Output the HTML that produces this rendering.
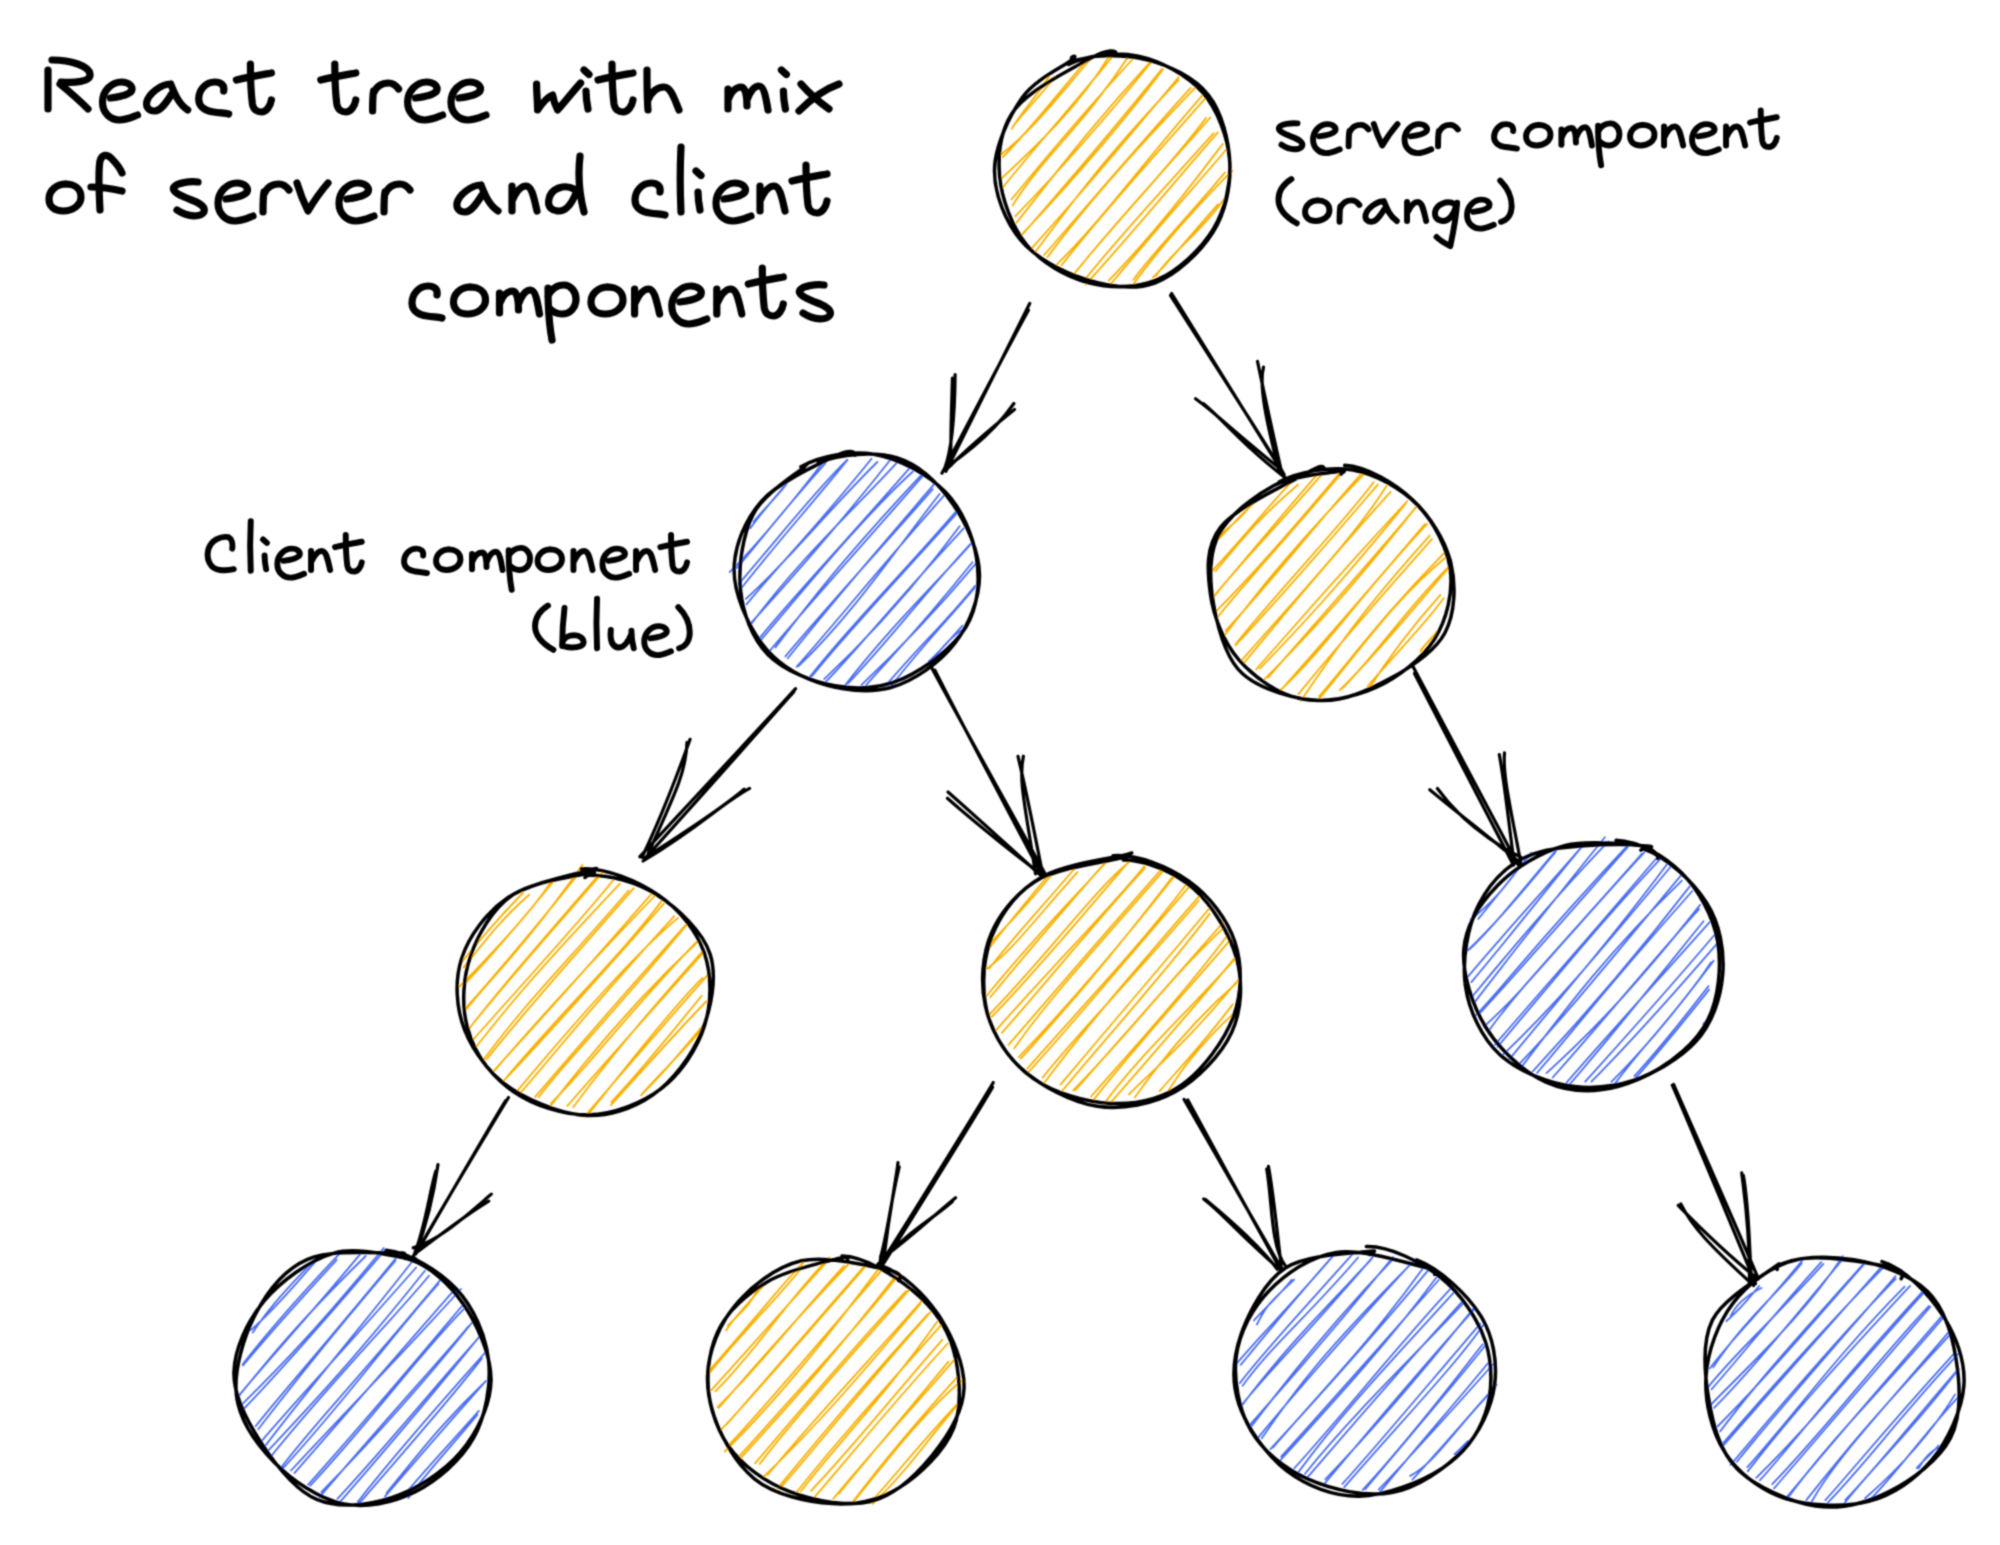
<!DOCTYPE html>
<html><head><meta charset="utf-8"><title>React tree</title>
<style>html,body{margin:0;padding:0;background:#fff;width:2000px;height:1545px;overflow:hidden}
svg{display:block}
.t{font-family:"Liberation Sans",sans-serif;fill:#000;stroke:#000;stroke-linejoin:round}
</style></head><body>
<svg width="2000" height="1545" viewBox="0 0 2000 1545">
<defs><filter id="bl" filterUnits="userSpaceOnUse" x="0" y="0" width="2000" height="1545"><feConvolveMatrix order="3" kernelMatrix="0.1299 0.3604 0.1299 0.3604 1.0000 0.3604 0.1299 0.3604 0.1299" divisor="2.9615" edgeMode="duplicate"/></filter></defs>
<rect width="2000" height="1545" fill="#fff"/><g filter="url(#bl)">
<path d="M1011.7 128.9C1021.8 111.6 1032.4 102.3 1049.1 76.6M1012.5 127.2C1026.6 108.4 1042.0 94.9 1054.5 76.8M998.7 156.2C1034.8 129.0 1063.8 89.3 1092.4 57.0M1002.8 157.1C1029.0 130.9 1056.7 95.2 1086.3 60.5M1000.3 179.7C1040.2 142.5 1080.6 103.8 1108.6 56.9M1003.6 186.5C1040.7 139.9 1080.6 96.6 1111.3 57.9M1012.6 205.5C1040.8 158.7 1083.4 126.3 1130.4 53.6M1011.6 199.3C1046.9 156.3 1082.7 113.4 1133.7 58.0M1016.4 222.8C1059.3 168.5 1092.6 124.5 1150.2 62.2M1015.2 216.4C1062.2 167.8 1104.2 119.9 1151.5 62.0M1023.2 233.6C1056.4 194.7 1098.6 148.3 1162.1 68.9M1020.1 236.3C1079.4 173.5 1133.3 109.5 1163.0 69.3M1035.4 251.8C1069.5 206.7 1096.4 166.5 1178.7 79.9M1031.2 248.8C1086.2 187.8 1136.7 127.6 1178.8 77.0M1047.4 257.1C1092.0 196.4 1150.6 133.7 1197.7 85.1M1044.0 255.2C1097.5 193.9 1146.8 135.7 1190.7 87.8M1055.2 266.1C1101.5 221.0 1135.8 171.7 1203.1 94.7M1061.4 265.4C1107.5 206.6 1163.3 146.6 1205.5 98.2M1071.4 277.1C1118.8 218.6 1172.3 163.9 1206.1 117.9M1075.8 271.9C1116.0 221.5 1160.9 174.3 1210.3 117.5M1084.0 280.6C1124.2 230.3 1167.3 185.2 1213.7 133.2M1085.7 284.5C1133.3 232.0 1180.4 174.9 1217.9 132.4M1108.7 280.7C1157.6 230.1 1193.4 182.4 1222.9 143.8M1110.6 284.2C1155.6 229.8 1198.6 182.1 1226.3 149.5M1132.9 284.9C1164.1 241.2 1211.8 190.8 1232.5 170.7M1133.4 279.7C1155.3 250.0 1180.4 225.6 1225.1 172.4M1156.0 275.9C1170.2 253.6 1198.6 234.5 1224.4 198.9M1152.9 277.4C1165.1 266.5 1180.2 247.1 1217.9 204.3" fill="none" stroke="#fab005" stroke-width="1.80" stroke-linecap="round"/>
<path d="M750.1 528.4C767.0 505.2 778.2 494.5 783.7 486.7M753.5 521.8C764.1 508.5 780.1 493.7 786.8 483.6M729.7 572.1C764.0 537.4 797.9 495.0 827.3 456.7M736.8 568.0C756.9 545.2 777.1 517.1 825.5 463.1M738.7 584.0C780.0 536.1 816.7 489.1 847.4 459.7M740.5 589.3C774.5 545.7 808.0 508.6 847.3 460.1M745.9 598.8C785.8 563.6 821.5 517.3 877.3 462.0M746.5 604.4C774.9 569.0 809.8 535.3 871.5 458.8M750.6 624.8C801.0 556.6 861.9 501.8 898.0 461.3M751.6 622.3C804.5 564.3 850.6 510.4 892.8 456.8M759.4 641.9C813.9 577.1 868.9 511.5 912.9 471.5M760.4 637.1C792.7 597.4 829.7 559.2 910.7 466.8M775.4 647.4C808.6 603.3 844.5 556.9 921.4 474.8M769.3 651.3C817.6 594.0 869.5 537.3 922.6 476.2M787.8 658.2C837.1 596.3 896.1 528.6 934.6 483.7M785.4 656.3C837.9 594.1 895.9 531.7 932.7 489.2M798.6 666.1C852.3 614.7 894.5 551.6 939.6 494.0M796.6 666.8C838.3 619.9 873.1 575.5 944.2 495.3M811.9 676.3C838.8 642.1 869.8 610.0 956.3 513.8M808.1 679.1C849.0 626.3 896.3 580.8 956.3 511.1M824.2 679.1C883.2 624.0 932.1 563.3 959.6 526.3M823.5 684.2C857.6 649.5 885.1 613.2 963.7 528.3M841.6 689.8C889.8 626.6 942.7 576.6 972.3 542.5M847.7 683.6C883.1 647.3 916.1 603.4 970.3 544.1M861.5 684.9C906.1 643.1 952.2 591.7 976.3 563.2M866.3 684.8C889.4 658.4 915.7 633.1 972.5 562.3M889.0 689.3C909.5 660.4 943.7 624.5 974.8 587.6M885.1 686.5C914.6 650.8 946.5 621.5 975.1 585.7M931.6 662.1C940.2 649.3 951.9 635.6 964.0 629.0M928.8 661.5C941.0 650.3 948.2 641.4 962.5 625.6" fill="none" stroke="#4c6ef5" stroke-width="1.80" stroke-linecap="round"/>
<path d="M1213.4 540.8C1233.9 522.3 1246.0 515.0 1255.9 497.2M1217.1 540.1C1224.8 533.6 1230.4 525.1 1254.8 501.9M1215.4 571.1C1238.1 544.4 1255.2 521.0 1298.0 484.7M1211.4 571.5C1240.6 541.7 1262.2 512.7 1296.0 476.8M1212.5 598.7C1234.6 569.1 1260.3 544.9 1322.8 473.4M1212.8 597.3C1250.9 552.7 1290.0 505.7 1317.5 474.1M1215.5 611.8C1249.9 578.1 1288.5 534.0 1343.9 468.0M1217.9 616.8C1255.1 570.9 1295.0 528.8 1343.2 471.2M1225.2 634.5C1262.3 585.7 1300.4 539.3 1366.0 472.1M1225.5 630.8C1268.2 585.4 1308.7 532.7 1360.6 474.7M1235.9 643.7C1283.9 584.2 1340.8 526.2 1373.6 482.3M1235.4 645.3C1287.4 590.1 1338.6 530.1 1377.8 484.6M1241.3 660.8C1297.8 596.0 1354.5 537.3 1386.6 485.8M1243.9 663.0C1282.9 615.9 1324.9 564.3 1390.6 491.8M1259.8 668.6C1299.4 628.0 1337.3 587.3 1405.6 503.6M1256.1 669.3C1290.3 631.2 1325.8 588.9 1407.3 501.0M1264.6 679.1C1317.4 626.1 1358.5 579.7 1417.3 505.4M1268.3 677.3C1313.5 624.6 1362.7 570.8 1418.1 504.9M1280.4 690.1C1325.6 647.9 1357.9 598.1 1427.1 523.9M1282.5 688.4C1333.9 630.2 1386.4 569.6 1424.9 524.2M1301.0 700.6C1331.0 657.4 1351.9 622.3 1429.7 535.6M1298.5 694.1C1330.8 654.3 1371.3 607.3 1432.1 538.9M1317.2 701.1C1360.7 649.7 1393.0 601.0 1445.1 558.0M1319.1 696.4C1354.7 654.8 1386.7 611.2 1444.3 553.0M1342.0 688.6C1374.7 656.2 1407.3 607.8 1449.5 565.8M1339.7 690.2C1366.2 664.0 1388.9 638.0 1448.2 568.3M1366.8 691.9C1388.3 657.9 1408.5 630.6 1440.4 594.9M1367.5 686.5C1393.6 656.1 1425.0 624.2 1443.7 598.3M1420.7 651.7C1423.7 644.7 1429.8 642.2 1437.4 630.9M1420.8 650.0C1426.4 642.9 1432.6 636.7 1436.0 633.2" fill="none" stroke="#fab005" stroke-width="1.80" stroke-linecap="round"/>
<path d="M463.6 967.6C486.1 939.1 504.2 916.2 529.2 894.7M460.8 963.2C474.0 946.9 490.3 926.6 522.8 893.0M457.6 988.3C494.3 951.3 535.5 906.3 551.1 881.5M464.5 984.2C483.8 964.1 504.0 942.1 554.8 879.8M466.0 1009.8C489.2 979.7 519.8 953.3 582.4 864.9M464.0 1009.9C512.0 956.7 556.0 902.1 583.6 867.4M465.0 1033.9C502.7 985.6 543.2 941.1 602.7 872.4M466.0 1032.5C493.8 996.7 516.6 969.9 599.5 874.1M472.5 1040.4C527.2 978.7 583.0 918.3 614.8 878.3M476.2 1046.8C503.9 1011.5 531.5 977.0 620.0 883.6M483.7 1059.7C523.7 1004.6 566.3 962.9 628.6 890.5M486.5 1059.5C526.5 1008.9 567.9 963.2 633.8 888.2M494.9 1070.3C539.1 1017.7 585.0 968.6 654.6 896.0M493.7 1071.0C528.0 1032.8 562.8 996.0 651.3 894.2M506.7 1077.1C562.4 1011.5 627.1 948.3 661.5 901.1M503.6 1080.9C557.0 1024.7 605.7 969.2 663.9 903.6M516.1 1092.3C573.2 1024.1 637.2 951.2 678.2 917.9M520.2 1093.2C553.0 1055.9 583.1 1015.5 674.3 916.1M538.7 1097.2C559.7 1067.6 599.3 1030.0 687.5 924.0M535.0 1097.1C574.8 1050.5 612.0 1007.9 685.3 925.3M550.8 1105.7C594.2 1049.0 640.8 995.0 697.5 942.0M550.9 1103.4C590.8 1063.7 624.0 1017.5 696.5 941.9M573.2 1107.2C616.7 1048.0 666.8 991.7 701.9 952.0M567.3 1105.9C601.3 1067.2 636.5 1027.1 703.6 952.3M584.3 1116.7C622.8 1072.2 659.3 1029.5 709.4 973.1M587.8 1114.9C632.5 1058.9 675.1 1005.3 702.5 977.9M611.3 1102.0C641.2 1070.9 669.7 1034.8 701.7 995.8M610.9 1105.2C646.3 1065.7 681.1 1027.4 706.2 1001.5M641.1 1095.3C656.3 1077.3 676.6 1058.7 704.2 1026.7M642.5 1093.5C667.8 1069.3 687.2 1043.7 703.1 1025.7" fill="none" stroke="#fab005" stroke-width="1.80" stroke-linecap="round"/>
<path d="M985.5 948.1C1000.3 931.7 1018.4 915.8 1051.9 874.5M988.9 948.4C1011.8 919.1 1035.5 890.8 1047.1 876.7M986.5 968.9C1012.6 950.3 1028.0 927.4 1077.4 872.1M989.1 968.6C1017.3 932.4 1049.3 899.1 1077.7 864.8M986.6 996.0C1027.7 944.4 1070.4 901.1 1107.0 861.5M990.3 997.2C1017.2 964.7 1042.5 933.9 1108.6 858.7M988.0 1015.9C1046.6 956.1 1094.8 889.6 1128.9 862.3M991.7 1016.9C1019.4 988.3 1048.9 955.7 1128.4 861.8M995.9 1030.4C1055.0 963.3 1114.7 903.5 1144.3 866.2M1001.9 1032.9C1049.1 979.3 1096.0 921.4 1145.0 867.9M1014.3 1048.3C1041.1 1009.7 1071.5 974.7 1165.5 868.4M1008.4 1045.0C1041.8 1006.8 1079.7 961.9 1161.2 869.7M1020.8 1058.7C1065.6 1008.9 1106.0 963.4 1172.0 877.5M1018.7 1057.2C1067.0 1006.7 1113.8 952.8 1175.7 874.7M1027.2 1068.7C1080.3 1008.5 1139.5 946.7 1186.4 884.3M1026.6 1074.2C1078.3 1017.4 1125.7 959.6 1188.9 887.1M1042.6 1077.6C1077.8 1033.1 1119.9 992.2 1198.8 900.5M1043.6 1083.8C1078.3 1037.0 1112.9 995.4 1199.5 895.9M1061.5 1091.8C1109.7 1033.2 1164.6 973.7 1209.7 913.6M1060.5 1084.7C1110.6 1024.8 1163.8 963.3 1209.2 908.5M1073.2 1090.3C1132.2 1030.6 1175.1 972.0 1223.3 928.3M1075.1 1090.3C1107.6 1053.7 1136.2 1020.9 1222.9 922.8M1094.2 1099.1C1127.5 1055.8 1168.9 1010.7 1233.2 936.6M1091.1 1096.5C1139.0 1042.2 1185.4 991.2 1228.2 934.5M1103.5 1104.6C1136.0 1059.5 1175.9 1023.8 1234.8 959.4M1109.3 1104.2C1160.0 1045.8 1210.1 988.9 1233.9 958.9M1128.9 1094.4C1156.1 1066.7 1180.9 1048.9 1237.9 980.2M1134.7 1097.6C1167.6 1051.0 1205.5 1010.2 1236.6 983.0M1165.7 1095.1C1179.2 1073.3 1194.7 1049.2 1236.8 1010.3M1159.7 1091.1C1178.7 1068.7 1198.7 1049.3 1232.9 1004.1" fill="none" stroke="#fab005" stroke-width="1.80" stroke-linecap="round"/>
<path d="M1470.8 919.2C1503.6 895.3 1519.0 864.4 1530.4 854.7M1478.3 918.9C1490.9 903.7 1501.7 890.3 1531.2 852.8M1467.6 950.5C1505.9 914.1 1534.6 876.4 1555.5 852.1M1470.1 948.8C1490.3 929.5 1510.9 904.5 1556.2 850.1M1471.4 982.1C1516.7 928.2 1556.5 876.6 1584.5 843.6M1465.2 979.9C1501.3 936.5 1540.9 893.9 1581.9 846.6M1474.3 1002.6C1511.5 954.0 1547.3 908.6 1604.9 837.3M1471.7 997.3C1517.0 942.3 1565.3 885.8 1608.5 841.4M1475.9 1015.2C1509.3 979.8 1536.9 942.1 1628.2 844.9M1480.7 1012.3C1512.4 978.0 1544.0 941.9 1627.7 847.2M1484.3 1026.3C1523.8 991.0 1555.5 948.8 1644.3 852.3M1488.0 1031.7C1520.0 987.4 1558.1 948.8 1642.0 853.5M1497.6 1046.8C1553.6 980.1 1608.2 913.8 1660.5 858.8M1494.9 1044.8C1535.9 997.1 1572.6 956.1 1655.8 859.0M1508.9 1059.9C1557.9 999.6 1607.8 944.4 1667.0 864.3M1502.8 1054.9C1553.3 1007.2 1596.0 956.6 1670.9 866.5M1521.5 1067.1C1568.0 1005.5 1610.6 949.7 1681.9 880.6M1519.1 1064.2C1563.7 1017.8 1605.5 966.0 1682.3 873.8M1532.6 1071.5C1583.9 1016.2 1632.6 960.5 1689.8 886.4M1537.1 1072.8C1572.8 1031.5 1604.5 989.7 1692.3 891.0M1546.5 1073.1C1599.5 1024.9 1643.6 976.5 1700.1 904.9M1552.7 1077.5C1608.8 1014.4 1662.8 948.4 1699.1 909.1M1566.7 1087.8C1610.6 1037.2 1655.7 980.4 1703.5 921.3M1566.6 1082.5C1604.9 1038.6 1649.9 989.0 1709.7 922.1M1591.4 1081.7C1636.1 1036.4 1679.6 987.1 1720.1 940.1M1585.2 1081.7C1636.8 1024.5 1686.2 968.3 1714.0 935.5M1615.4 1083.1C1647.5 1039.7 1680.2 1009.4 1710.9 962.5M1611.4 1081.8C1649.4 1044.3 1682.5 1001.9 1713.7 960.6M1634.4 1076.1C1662.6 1045.1 1686.7 1014.5 1708.5 986.1M1635.6 1078.1C1659.6 1051.0 1676.3 1030.9 1709.1 989.6M1703.2 1024.3C1704.7 1022.3 1707.0 1020.9 1708.1 1018.8M1703.2 1024.6C1704.5 1023.3 1706.1 1021.0 1707.7 1019.5" fill="none" stroke="#4c6ef5" stroke-width="1.80" stroke-linecap="round"/>
<path d="M252.8 1332.6C265.2 1313.4 280.2 1295.2 316.0 1258.3M250.9 1330.0C273.9 1310.4 292.8 1287.0 316.1 1260.9M243.0 1365.5C277.1 1324.5 308.5 1290.4 336.7 1259.8M242.7 1364.3C264.8 1335.8 286.7 1309.6 339.6 1253.6M235.9 1399.7C265.0 1363.8 294.0 1326.4 365.7 1256.0M238.0 1396.6C270.6 1357.0 307.0 1318.5 360.2 1254.1M240.5 1405.9C285.3 1362.1 317.9 1327.2 383.7 1248.0M244.1 1408.5C292.7 1358.3 340.7 1301.4 384.7 1250.3M258.2 1429.3C297.6 1378.0 328.9 1338.4 395.5 1260.6M255.6 1426.3C283.5 1391.2 316.8 1354.6 398.3 1255.2M265.8 1445.1C313.9 1382.0 363.1 1324.5 413.0 1260.5M261.0 1441.8C292.8 1404.5 327.5 1367.7 416.1 1267.5M265.3 1453.7C310.9 1405.0 349.6 1364.8 424.9 1270.7M269.6 1458.1C331.2 1381.6 397.4 1314.3 429.0 1275.8M281.8 1469.6C342.9 1403.8 391.0 1336.6 438.4 1284.0M280.4 1468.6C312.7 1425.6 349.3 1389.4 441.3 1278.9M291.0 1470.5C350.1 1406.8 408.0 1347.9 460.9 1289.0M294.4 1473.1C337.1 1424.7 381.7 1373.8 455.0 1289.1M310.2 1485.7C370.4 1421.6 415.7 1358.3 463.5 1309.3M308.1 1484.7C357.9 1429.4 403.2 1375.9 463.7 1304.0M319.4 1497.3C381.7 1423.4 442.2 1358.2 468.7 1326.0M321.3 1492.2C372.2 1440.1 419.6 1388.3 472.6 1322.0M336.9 1505.5C379.4 1456.6 415.2 1416.0 479.3 1336.6M337.4 1498.9C392.4 1439.5 442.7 1377.3 476.4 1340.4M358.5 1504.2C403.5 1451.8 444.4 1406.5 481.9 1358.4M357.7 1502.1C390.6 1459.8 425.6 1419.5 485.2 1352.7M386.5 1493.0C415.4 1458.4 438.4 1426.2 486.0 1381.0M384.9 1496.6C417.8 1458.1 447.8 1423.7 485.1 1381.8M408.3 1498.1C425.0 1474.0 451.7 1446.0 477.4 1414.6M405.2 1493.9C429.0 1465.0 453.3 1440.4 478.8 1410.9" fill="none" stroke="#4c6ef5" stroke-width="1.80" stroke-linecap="round"/>
<path d="M727.8 1325.6C741.3 1311.8 751.5 1304.9 759.3 1284.7M726.2 1330.6C730.5 1321.6 739.0 1314.1 762.8 1286.1M709.5 1372.9C743.5 1330.6 786.8 1288.5 802.7 1265.9M706.4 1373.6C748.0 1327.1 784.3 1281.8 804.7 1260.9M715.4 1391.3C755.9 1351.4 787.8 1299.5 829.4 1257.4M711.4 1390.1C736.1 1363.2 764.8 1330.9 826.3 1262.3M717.7 1406.9C759.7 1366.1 793.1 1321.6 844.0 1265.9M718.6 1408.0C763.9 1355.5 806.5 1307.6 848.2 1264.5M726.6 1424.5C760.4 1385.4 806.6 1332.3 867.9 1262.1M721.6 1429.2C758.4 1390.1 795.5 1346.4 866.9 1264.8M724.8 1451.5C779.0 1397.7 821.3 1344.8 880.9 1265.9M728.9 1445.0C769.7 1402.0 804.0 1359.1 883.9 1267.7M737.0 1458.7C807.3 1380.8 867.3 1315.6 897.5 1276.2M741.5 1457.3C775.4 1418.9 809.1 1386.2 894.0 1278.0M759.7 1464.0C799.5 1411.2 856.0 1350.6 910.7 1287.8M755.1 1463.3C810.1 1398.6 865.7 1333.8 906.1 1291.1M763.2 1477.2C828.6 1414.6 881.5 1349.7 920.5 1303.6M767.7 1474.7C819.5 1412.5 876.3 1352.8 923.1 1299.4M777.6 1488.4C827.4 1427.9 873.7 1373.1 927.9 1314.2M781.5 1486.7C821.3 1441.3 858.3 1393.2 933.2 1309.0M800.6 1491.5C841.8 1438.8 885.8 1394.5 937.4 1321.6M796.5 1492.3C825.7 1455.3 856.3 1420.0 942.5 1323.7M811.0 1490.8C849.8 1450.4 882.0 1409.3 942.4 1339.6M814.5 1497.2C858.7 1445.6 902.0 1392.8 947.8 1343.5M838.9 1493.5C872.5 1453.2 913.7 1403.0 948.5 1361.6M833.2 1498.8C877.2 1445.9 919.1 1400.1 955.4 1358.7M853.4 1502.2C889.1 1457.1 929.8 1405.9 964.1 1378.7M853.1 1501.6C883.7 1461.2 910.7 1428.4 957.2 1377.2M872.6 1503.8C906.5 1472.1 928.1 1438.8 958.7 1403.7M872.3 1500.5C894.7 1476.1 913.9 1450.6 958.5 1402.6" fill="none" stroke="#fab005" stroke-width="1.80" stroke-linecap="round"/>
<path d="M1256.9 1324.5C1265.8 1306.5 1268.2 1303.8 1294.2 1279.6M1253.9 1320.5C1264.2 1309.1 1280.4 1294.4 1291.7 1279.7M1240.7 1364.9C1269.3 1330.0 1298.3 1295.1 1335.2 1253.4M1236.2 1364.0C1258.1 1338.1 1283.6 1313.3 1332.9 1256.1M1242.6 1385.8C1270.4 1346.8 1309.3 1314.7 1358.0 1257.5M1239.8 1383.1C1268.2 1346.6 1299.8 1313.1 1352.5 1254.2M1242.6 1404.6C1287.8 1344.4 1337.3 1296.0 1371.4 1259.2M1242.9 1403.6C1272.5 1367.2 1302.2 1339.2 1372.7 1257.2M1251.9 1425.8C1291.9 1373.0 1335.9 1318.7 1392.4 1259.9M1250.3 1424.5C1286.2 1383.9 1323.7 1342.1 1393.0 1257.0M1261.8 1438.3C1295.2 1389.3 1324.4 1350.8 1413.8 1261.2M1258.2 1437.6C1294.0 1394.2 1331.8 1349.9 1414.8 1259.4M1272.8 1447.6C1323.8 1388.6 1372.7 1338.7 1423.7 1267.3M1270.4 1449.1C1317.1 1398.6 1362.6 1349.0 1428.7 1269.6M1280.2 1460.5C1338.2 1396.7 1389.1 1341.3 1436.2 1277.8M1281.2 1456.6C1321.5 1412.5 1360.1 1368.8 1438.7 1280.0M1297.5 1473.4C1339.8 1415.5 1379.0 1374.3 1454.4 1291.9M1294.1 1468.5C1348.3 1408.6 1399.2 1343.6 1452.5 1286.7M1305.0 1473.7C1353.3 1413.6 1413.9 1355.9 1463.7 1303.0M1306.6 1478.4C1348.8 1429.5 1390.8 1380.0 1461.8 1302.2M1325.3 1479.3C1380.4 1422.0 1429.3 1363.5 1473.1 1308.8M1324.8 1483.3C1367.1 1433.3 1406.0 1385.6 1474.9 1308.6M1344.2 1487.3C1402.4 1420.2 1458.3 1362.0 1485.0 1322.5M1342.4 1483.9C1372.8 1450.5 1401.8 1415.7 1480.1 1323.8M1362.7 1489.9C1409.5 1439.5 1454.9 1379.5 1482.7 1344.3M1365.3 1489.2C1401.3 1446.1 1442.4 1398.5 1485.3 1345.5M1377.2 1495.6C1414.8 1448.9 1456.4 1402.0 1487.9 1363.3M1378.7 1489.6C1404.2 1462.9 1427.8 1437.5 1493.3 1364.0M1410.2 1475.9C1435.6 1462.0 1449.9 1435.0 1495.7 1387.0M1412.4 1479.6C1439.9 1450.0 1468.9 1416.2 1496.6 1384.5M1454.9 1454.2C1459.7 1449.5 1465.4 1444.5 1469.7 1441.6M1454.5 1454.3C1458.6 1450.9 1460.5 1448.6 1467.8 1441.0" fill="none" stroke="#4c6ef5" stroke-width="1.80" stroke-linecap="round"/>
<path d="M1729.8 1318.5C1733.8 1307.2 1745.4 1295.2 1761.5 1288.0M1726.2 1321.2C1740.7 1309.1 1751.0 1295.6 1759.2 1286.0M1713.2 1367.3C1743.7 1320.5 1780.2 1290.9 1801.8 1263.2M1709.7 1368.5C1729.8 1341.5 1753.5 1319.5 1802.2 1260.5M1706.5 1389.1C1734.8 1353.4 1767.3 1325.5 1823.4 1263.9M1711.5 1389.3C1738.9 1358.4 1767.7 1321.4 1821.3 1262.2M1709.7 1405.8C1754.4 1360.3 1805.2 1313.5 1842.7 1256.2M1714.1 1407.9C1740.4 1381.2 1767.4 1350.3 1841.5 1260.6M1720.1 1431.4C1765.6 1371.1 1814.5 1319.2 1862.6 1264.9M1717.5 1426.5C1761.9 1382.1 1801.4 1335.9 1865.2 1262.8M1723.1 1443.1C1777.7 1380.3 1836.8 1314.5 1888.2 1262.6M1721.9 1447.2C1778.0 1382.7 1839.9 1314.0 1882.0 1266.0M1730.5 1465.0C1795.6 1387.7 1853.1 1322.0 1895.7 1278.9M1736.8 1461.7C1793.5 1392.1 1850.7 1328.4 1895.6 1276.2M1747.4 1467.2C1797.4 1411.5 1834.5 1357.5 1904.6 1286.7M1747.7 1471.4C1787.8 1419.8 1831.2 1370.5 1910.1 1285.9M1756.3 1477.8C1810.7 1424.5 1855.2 1368.3 1923.0 1293.7M1760.0 1480.2C1800.2 1435.4 1835.8 1385.8 1921.7 1292.7M1772.2 1484.2C1827.3 1427.2 1881.2 1356.4 1928.8 1306.0M1774.1 1488.3C1810.4 1445.9 1844.2 1407.2 1930.4 1306.7M1786.3 1500.0C1830.8 1438.5 1883.1 1389.1 1944.2 1316.5M1786.6 1497.3C1831.3 1444.0 1880.5 1386.6 1942.7 1315.2M1811.5 1502.0C1832.9 1463.7 1863.8 1431.2 1950.0 1330.6M1806.4 1500.0C1834.7 1464.7 1862.8 1428.2 1949.7 1335.1M1827.8 1502.6C1866.8 1462.5 1898.3 1418.3 1958.5 1353.7M1825.3 1500.2C1853.1 1469.4 1882.8 1432.0 1953.6 1354.1M1843.9 1504.0C1872.9 1466.3 1909.9 1433.5 1958.8 1369.0M1845.4 1500.0C1879.2 1465.0 1907.0 1428.1 1957.4 1370.0M1865.1 1498.3C1907.0 1461.6 1937.3 1423.5 1955.1 1394.4M1869.5 1500.3C1901.0 1467.8 1927.6 1429.5 1958.3 1397.1M1918.7 1468.3C1920.9 1465.6 1924.2 1454.9 1938.2 1447.6M1916.7 1468.3C1921.3 1462.1 1929.7 1456.5 1938.5 1445.5" fill="none" stroke="#4c6ef5" stroke-width="1.80" stroke-linecap="round"/>
<path d="M1068.6 64.4C1087.9 54.7 1116.1 51.5 1138.4 56.1C1160.7 60.8 1187.1 74.9 1202.3 92.2C1217.5 109.5 1227.8 137.1 1229.6 159.9C1231.4 182.7 1225.4 208.9 1213.4 228.9C1201.3 248.9 1178.1 270.7 1157.2 279.7C1136.2 288.6 1109.4 288.3 1087.7 282.5C1065.9 276.8 1041.5 262.8 1026.8 245.0C1012.2 227.2 1001.5 198.6 999.6 175.9C997.7 153.1 1000.2 128.2 1015.6 108.4C1031.1 88.7 1075.4 66.8 1092.0 57.5C1108.7 48.1 1115.4 51.2 1115.7 52.2M1070.3 62.2C1090.7 54.2 1122.7 54.2 1145.7 59.6C1168.7 65.0 1194.2 77.3 1208.2 94.8C1222.2 112.2 1229.1 141.2 1229.9 164.1C1230.7 187.1 1225.4 212.7 1212.8 232.5C1200.3 252.3 1176.1 275.3 1154.7 283.0C1133.3 290.8 1106.8 286.1 1084.5 278.9C1062.1 271.7 1035.5 258.0 1020.5 239.9C1005.5 221.7 994.2 193.9 994.5 170.2C994.7 146.5 1009.3 116.1 1022.1 97.8C1035.0 79.5 1063.3 66.7 1071.5 60.2C1079.8 53.7 1069.9 56.6 1071.7 58.8" fill="none" stroke="#000" stroke-width="3.50" stroke-linecap="round" stroke-linejoin="round"/>
<path d="M818.3 462.5C840.2 454.0 875.0 451.0 897.4 457.9C919.9 464.9 939.3 484.7 953.0 504.2C966.7 523.7 979.3 551.5 979.5 574.7C979.8 598.0 969.2 624.9 954.5 643.7C939.9 662.5 914.3 680.8 891.6 687.3C868.9 693.8 840.0 690.0 818.3 682.6C796.6 675.3 775.6 661.9 761.6 643.2C747.6 624.4 734.0 594.0 734.1 570.3C734.1 546.6 744.7 520.1 761.8 500.9C778.9 481.7 821.1 462.9 836.7 455.3C852.4 447.7 855.3 453.3 855.5 455.2M800.9 466.8C819.3 455.9 851.0 450.3 875.1 454.4C899.1 458.6 928.3 474.5 945.2 491.8C962.1 509.1 973.0 535.6 976.5 558.1C980.0 580.6 978.3 606.8 966.1 626.8C953.9 646.8 925.4 668.4 903.5 678.3C881.7 688.1 857.7 689.8 835.0 685.8C812.4 681.8 783.5 670.4 767.8 654.4C752.0 638.4 742.9 613.0 740.5 589.6C738.1 566.2 742.8 534.4 753.3 514.1C763.8 493.7 795.0 475.0 803.5 467.5C811.9 459.9 803.4 467.0 803.8 468.8" fill="none" stroke="#000" stroke-width="3.50" stroke-linecap="round" stroke-linejoin="round"/>
<path d="M1279.3 481.7C1299.1 471.7 1329.8 466.1 1352.9 470.0C1376.0 474.0 1401.6 488.8 1417.9 505.5C1434.1 522.3 1447.5 548.0 1450.3 570.3C1453.1 592.6 1446.8 619.7 1434.4 639.2C1422.1 658.8 1398.3 677.5 1376.0 687.5C1353.8 697.4 1323.8 703.5 1301.0 698.9C1278.1 694.3 1254.0 677.2 1238.9 659.8C1223.8 642.5 1213.5 616.7 1210.5 594.5C1207.4 572.4 1204.9 547.2 1220.7 527.1C1236.4 507.0 1287.9 483.9 1305.0 474.0C1322.2 464.1 1323.4 466.2 1323.7 467.7M1344.7 465.3C1367.3 466.7 1394.6 483.2 1412.3 499.5C1429.9 515.7 1445.3 540.4 1450.8 562.6C1456.2 584.8 1455.2 613.3 1445.0 632.7C1434.7 652.1 1410.1 667.7 1389.4 678.9C1368.6 690.2 1344.9 701.3 1320.4 700.4C1295.9 699.6 1260.4 689.8 1242.6 673.8C1224.8 657.8 1217.7 627.5 1213.6 604.5C1209.6 581.4 1208.5 555.3 1218.4 535.5C1228.4 515.7 1253.5 496.4 1273.5 485.7C1293.5 475.1 1327.3 473.4 1338.5 471.5C1349.8 469.5 1341.3 472.6 1341.0 474.3" fill="none" stroke="#000" stroke-width="3.50" stroke-linecap="round" stroke-linejoin="round"/>
<path d="M581.3 868.8C605.0 867.2 638.0 881.1 658.5 895.1C679.0 909.1 696.5 930.9 704.2 952.7C711.9 974.4 711.7 1003.0 704.6 1025.6C697.6 1048.2 681.2 1073.3 661.9 1088.1C642.6 1103.0 613.5 1114.3 588.8 1114.8C564.0 1115.4 534.0 1105.7 513.3 1091.5C492.6 1077.3 473.2 1052.1 464.6 1029.9C456.0 1007.7 454.5 980.2 461.7 958.2C468.8 936.1 486.3 912.5 507.7 897.8C529.2 883.1 576.7 873.8 590.5 869.8C604.2 865.8 590.6 871.0 590.1 873.6M587.8 875.3C609.9 874.8 636.7 881.9 657.1 895.0C677.5 908.1 702.7 931.2 710.1 954.1C717.5 977.0 711.1 1008.7 701.5 1032.2C692.0 1055.7 672.4 1081.3 652.6 1095.1C632.8 1108.9 607.6 1117.2 582.9 1115.2C558.1 1113.3 523.2 1098.1 503.9 1083.3C484.6 1068.4 472.6 1047.5 467.1 1026.2C461.5 1005.0 463.0 977.8 470.6 955.9C478.1 934.1 492.5 908.9 512.4 895.1C532.3 881.3 578.0 876.0 590.1 873.1C602.2 870.2 584.8 876.3 584.9 877.6" fill="none" stroke="#000" stroke-width="3.50" stroke-linecap="round" stroke-linejoin="round"/>
<path d="M1113.0 855.8C1137.6 853.9 1168.5 866.7 1188.8 881.1C1209.2 895.5 1227.6 919.6 1235.0 942.2C1242.4 964.8 1242.1 992.9 1233.4 1016.6C1224.6 1040.3 1202.8 1069.9 1182.4 1084.4C1162.1 1098.8 1135.9 1104.4 1111.1 1103.4C1086.3 1102.5 1053.8 1092.7 1033.4 1078.6C1013.0 1064.4 996.2 1041.2 988.9 1018.5C981.6 995.7 982.1 965.0 989.8 942.2C997.4 919.4 1012.8 895.7 1034.8 881.7C1056.9 867.6 1106.9 861.7 1121.9 857.9C1137.0 854.0 1126.2 856.3 1125.3 858.6M1123.3 860.0C1147.2 860.3 1174.7 872.3 1193.6 888.7C1212.5 905.2 1230.3 935.0 1236.7 958.9C1243.0 982.9 1241.8 1010.3 1231.6 1032.5C1221.4 1054.6 1197.6 1079.4 1175.3 1091.7C1152.9 1104.0 1122.9 1110.1 1097.3 1106.3C1071.7 1102.5 1040.4 1085.7 1021.7 1068.9C1003.0 1052.2 990.4 1028.6 985.4 1006.0C980.3 983.3 982.2 954.5 991.5 933.0C1000.8 911.5 1018.9 890.3 1041.4 877.2C1063.8 864.2 1112.5 858.1 1126.2 854.6C1139.9 851.1 1124.2 854.3 1123.6 856.3" fill="none" stroke="#000" stroke-width="3.50" stroke-linecap="round" stroke-linejoin="round"/>
<path d="M1616.1 840.2C1639.4 841.3 1664.4 855.8 1681.3 872.6C1698.2 889.4 1713.1 916.1 1717.5 940.8C1721.9 965.4 1718.8 998.4 1707.5 1020.5C1696.3 1042.6 1672.2 1062.4 1650.0 1073.5C1627.9 1084.5 1599.6 1089.7 1574.6 1086.6C1549.5 1083.5 1518.1 1071.5 1499.9 1054.7C1481.7 1037.9 1468.9 1010.7 1465.4 985.7C1461.8 960.7 1467.5 926.7 1478.6 904.9C1489.6 883.0 1505.7 864.6 1531.5 854.6C1557.2 844.6 1611.9 844.2 1633.0 844.8C1654.0 845.5 1658.4 856.3 1657.7 858.5M1642.3 848.5C1666.1 856.0 1693.3 881.9 1706.7 902.9C1720.1 923.9 1724.6 951.4 1722.7 974.7C1720.8 998.0 1712.4 1023.8 1695.1 1042.4C1677.8 1061.0 1643.6 1079.7 1618.7 1086.3C1593.9 1092.9 1568.0 1091.9 1545.9 1082.1C1523.7 1072.3 1499.6 1049.6 1485.9 1027.5C1472.3 1005.3 1461.9 972.9 1463.8 949.3C1465.7 925.7 1480.4 903.0 1497.3 885.7C1514.3 868.4 1540.4 852.1 1565.3 845.5C1590.3 838.9 1634.6 845.4 1647.1 846.1C1659.7 846.9 1641.5 848.3 1640.8 850.1" fill="none" stroke="#000" stroke-width="3.50" stroke-linecap="round" stroke-linejoin="round"/>
<path d="M386.2 1250.3C409.3 1252.6 439.3 1270.8 456.4 1289.0C473.4 1307.2 485.6 1334.8 488.5 1359.7C491.3 1384.5 485.8 1416.0 473.6 1438.0C461.3 1460.1 436.9 1480.9 415.0 1491.9C393.1 1502.8 365.7 1508.5 342.3 1503.6C318.8 1498.7 291.8 1480.2 274.2 1462.2C256.6 1444.3 239.6 1420.5 236.5 1395.8C233.4 1371.1 243.7 1336.7 255.6 1313.9C267.4 1291.2 284.3 1269.4 307.5 1259.3C330.8 1249.1 379.4 1253.3 395.1 1252.9C410.8 1252.5 402.5 1254.8 401.9 1256.9M408.3 1259.2C429.7 1265.7 449.6 1284.0 463.4 1304.3C477.2 1324.5 491.5 1355.9 491.0 1380.6C490.5 1405.3 476.9 1433.0 460.3 1452.5C443.8 1472.0 415.5 1489.8 391.6 1497.6C367.6 1505.4 338.4 1508.6 316.7 1499.4C294.9 1490.2 274.7 1463.6 260.9 1442.4C247.1 1421.2 233.4 1395.9 233.9 1372.4C234.5 1348.8 247.3 1321.0 264.0 1301.1C280.7 1281.2 309.5 1260.1 334.1 1253.1C358.7 1246.0 399.5 1258.0 411.4 1258.9C423.3 1259.8 406.8 1256.8 405.2 1258.4" fill="none" stroke="#000" stroke-width="3.50" stroke-linecap="round" stroke-linejoin="round"/>
<path d="M880.4 1265.5C902.1 1272.7 924.2 1294.1 938.2 1314.6C952.1 1335.2 965.0 1365.1 964.0 1388.6C963.0 1412.1 947.4 1436.7 932.0 1455.5C916.7 1474.2 895.5 1495.2 871.8 1501.2C848.1 1507.3 813.7 1500.9 789.8 1491.7C765.9 1482.6 742.3 1465.8 728.6 1446.3C714.9 1426.8 706.6 1398.1 707.6 1374.8C708.6 1351.4 719.0 1325.0 734.6 1306.0C750.3 1287.0 775.7 1266.8 801.3 1260.8C826.9 1254.8 872.1 1266.7 888.3 1270.0C904.6 1273.3 899.7 1279.1 898.8 1280.7M842.0 1256.0C864.9 1256.4 894.8 1275.8 913.3 1291.1C931.8 1306.4 946.2 1325.1 952.9 1347.9C959.6 1370.7 962.8 1404.6 953.7 1428.0C944.6 1451.4 918.6 1475.7 898.3 1488.3C878.0 1500.9 855.9 1505.2 831.9 1503.6C807.9 1502.1 774.5 1495.1 754.4 1478.8C734.3 1462.6 717.3 1430.5 711.2 1406.1C705.0 1381.7 708.1 1353.2 717.4 1332.5C726.7 1311.8 746.7 1294.3 767.1 1281.9C787.4 1269.5 826.2 1261.8 839.7 1258.3C853.1 1254.7 846.3 1259.0 847.6 1260.5" fill="none" stroke="#000" stroke-width="3.50" stroke-linecap="round" stroke-linejoin="round"/>
<path d="M1416.6 1260.0C1440.1 1268.8 1467.5 1294.7 1480.5 1315.5C1493.5 1336.3 1497.5 1362.4 1494.6 1384.9C1491.7 1407.3 1480.1 1432.3 1462.9 1450.3C1445.8 1468.3 1417.5 1487.8 1391.7 1492.6C1365.9 1497.4 1331.7 1489.6 1308.2 1479.2C1284.7 1468.9 1262.8 1451.0 1250.8 1430.4C1238.8 1409.9 1233.3 1379.2 1236.3 1356.0C1239.3 1332.8 1252.1 1308.5 1268.7 1291.2C1285.4 1273.9 1310.2 1256.3 1336.4 1252.4C1362.7 1248.5 1410.0 1264.1 1426.4 1267.8C1442.8 1271.5 1436.1 1273.5 1434.7 1274.4M1366.4 1246.6C1389.7 1246.0 1421.0 1261.9 1440.8 1277.7C1460.7 1293.6 1478.1 1319.1 1485.5 1341.7C1492.9 1364.3 1492.5 1392.4 1485.3 1413.4C1478.1 1434.5 1463.3 1454.3 1442.3 1468.1C1421.4 1481.9 1385.3 1495.8 1359.4 1496.2C1333.4 1496.6 1306.6 1486.0 1286.5 1470.7C1266.4 1455.3 1246.4 1426.6 1238.8 1403.9C1231.2 1381.3 1233.1 1357.6 1240.9 1334.9C1248.7 1312.2 1264.6 1281.7 1285.7 1267.8C1306.9 1253.9 1353.8 1253.7 1367.8 1251.5C1381.7 1249.3 1369.6 1252.8 1369.5 1254.5" fill="none" stroke="#000" stroke-width="3.50" stroke-linecap="round" stroke-linejoin="round"/>
<path d="M1882.0 1261.6C1904.9 1268.4 1928.6 1294.0 1942.3 1314.7C1955.9 1335.3 1965.6 1361.2 1963.9 1385.3C1962.2 1409.4 1948.1 1440.0 1932.2 1459.4C1916.3 1478.7 1893.4 1495.0 1868.6 1501.4C1843.8 1507.8 1807.3 1506.0 1783.3 1497.8C1759.3 1489.5 1737.5 1472.2 1724.6 1451.9C1711.7 1431.7 1704.4 1401.3 1706.0 1376.3C1707.5 1351.3 1718.4 1321.6 1733.8 1302.1C1749.2 1282.6 1772.2 1265.1 1798.5 1259.3C1824.7 1253.5 1874.1 1264.2 1891.2 1267.4C1908.3 1270.6 1901.9 1276.2 1901.2 1278.7M1775.3 1267.2C1795.6 1255.6 1828.6 1255.7 1854.0 1259.8C1879.4 1263.8 1910.6 1274.7 1927.6 1291.4C1944.6 1308.0 1952.3 1335.2 1956.1 1359.6C1960.0 1384.0 1961.7 1416.0 1950.5 1438.0C1939.3 1460.0 1911.6 1480.3 1889.1 1491.6C1866.6 1502.9 1840.9 1509.8 1815.5 1506.0C1790.2 1502.2 1754.9 1486.7 1737.1 1468.7C1719.2 1450.8 1712.7 1423.1 1708.6 1398.3C1704.5 1373.6 1701.6 1341.9 1712.4 1320.1C1723.2 1298.3 1762.7 1276.1 1773.5 1267.7C1784.3 1259.2 1776.5 1267.2 1777.2 1269.4" fill="none" stroke="#000" stroke-width="3.50" stroke-linecap="round" stroke-linejoin="round"/>
<path d="M1029.7 303.5C1015.4 331.0 960.2 443.8 945.9 471.3M1028.4 310.2C1013.3 337.2 955.9 446.8 941.9 473.2M952.4 378.1C952.0 398.1 950.4 430.3 950.9 465.5M955.1 374.6C954.8 414.3 952.1 448.2 944.8 468.4M1013.9 403.5C997.3 427.5 976.2 446.4 949.3 465.1M1014.5 409.4C984.4 433.6 959.7 456.3 946.5 469.3" fill="none" stroke="#000" stroke-width="3.20" stroke-linecap="round" stroke-linejoin="round"/>
<path d="M1171.6 293.5C1189.9 323.5 1265.1 443.8 1283.3 473.6M1170.5 295.3C1189.9 326.4 1266.6 444.2 1284.1 474.6M1203.3 403.6C1225.1 421.5 1242.8 445.6 1284.5 477.1M1195.6 398.7C1217.7 414.8 1230.8 429.1 1281.8 470.3M1263.5 367.1C1258.8 386.0 1266.2 420.6 1279.0 471.1M1257.5 361.4C1265.8 401.0 1273.3 436.2 1282.4 475.4" fill="none" stroke="#000" stroke-width="3.20" stroke-linecap="round" stroke-linejoin="round"/>
<path d="M793.9 691.6C769.2 719.4 669.5 831.7 644.5 858.8M795.6 688.6C770.9 716.3 665.0 829.3 639.9 856.7M687.0 742.4C686.1 770.7 676.7 790.4 648.2 853.6M690.1 739.3C673.8 784.8 654.8 830.6 642.0 857.3M749.6 788.4C721.7 803.2 703.9 824.3 643.1 861.0M744.1 789.3C712.9 815.3 679.1 835.4 644.9 857.9" fill="none" stroke="#000" stroke-width="3.20" stroke-linecap="round" stroke-linejoin="round"/>
<path d="M934.9 670.2C952.2 705.0 1024.5 842.3 1042.7 876.4M931.7 667.7C949.9 702.2 1026.6 839.6 1045.1 873.9M947.4 798.2C977.8 825.2 1019.2 857.4 1038.8 872.4M948.0 792.0C982.1 822.0 1014.1 851.5 1041.5 876.0M1023.4 756.2C1018.2 780.9 1025.7 808.5 1035.5 873.8M1018.0 756.4C1028.7 801.2 1037.4 848.5 1042.7 874.2" fill="none" stroke="#000" stroke-width="3.20" stroke-linecap="round" stroke-linejoin="round"/>
<path d="M1414.5 673.5C1432.0 706.4 1496.4 833.3 1513.4 865.0M1412.7 666.1C1430.1 698.4 1500.6 832.0 1518.0 864.6M1437.4 788.5C1458.2 817.1 1488.5 841.3 1520.8 857.1M1429.8 789.7C1449.0 805.8 1467.0 819.8 1516.9 860.0M1504.5 752.8C1502.3 775.8 1511.8 812.9 1520.9 863.8M1499.3 754.5C1504.9 785.1 1508.6 821.8 1513.8 860.6" fill="none" stroke="#000" stroke-width="3.20" stroke-linecap="round" stroke-linejoin="round"/>
<path d="M508.5 1097.5C493.0 1122.9 431.6 1225.4 416.9 1251.8M505.6 1100.8C489.8 1125.7 430.9 1228.4 415.7 1254.0M435.8 1171.2C429.3 1192.0 424.8 1231.7 412.7 1257.9M438.0 1164.5C433.6 1194.8 427.3 1222.9 416.2 1251.9M491.3 1194.1C467.0 1215.1 440.4 1239.8 413.2 1247.9M488.7 1201.1C463.7 1215.9 437.2 1237.6 415.7 1253.2" fill="none" stroke="#000" stroke-width="3.20" stroke-linecap="round" stroke-linejoin="round"/>
<path d="M993.3 1082.5C975.4 1112.4 900.6 1233.4 881.4 1262.6M992.6 1087.2C974.9 1117.5 902.6 1233.7 883.8 1263.2M898.0 1162.5C895.9 1181.8 890.6 1202.5 883.1 1264.0M899.2 1166.8C890.4 1204.2 886.4 1238.6 880.4 1257.6M952.4 1201.5C931.4 1220.1 911.9 1228.3 877.6 1264.5M955.6 1197.7C932.8 1216.2 919.8 1229.9 880.2 1260.1" fill="none" stroke="#000" stroke-width="3.20" stroke-linecap="round" stroke-linejoin="round"/>
<path d="M1187.8 1099.9C1202.6 1128.0 1264.5 1240.9 1279.9 1268.6M1184.1 1099.5C1199.7 1127.3 1263.2 1236.6 1278.9 1264.1M1203.7 1198.9C1221.8 1212.7 1239.4 1234.2 1279.4 1269.3M1205.5 1199.5C1233.6 1222.9 1264.2 1251.4 1277.3 1269.2M1266.7 1169.0C1272.5 1201.5 1270.3 1245.1 1285.1 1265.4M1268.4 1166.3C1272.7 1188.0 1275.0 1211.3 1281.5 1269.2" fill="none" stroke="#000" stroke-width="3.20" stroke-linecap="round" stroke-linejoin="round"/>
<path d="M1672.3 1085.1C1686.7 1117.7 1742.3 1251.2 1755.5 1283.7M1673.6 1084.5C1687.8 1117.4 1745.3 1246.2 1758.3 1278.9M1680.8 1204.0C1691.8 1226.0 1708.8 1244.7 1753.7 1285.5M1678.2 1205.3C1706.3 1234.2 1736.6 1261.8 1756.9 1278.2M1741.7 1172.8C1744.3 1195.1 1750.4 1231.6 1749.3 1285.0M1743.4 1175.5C1749.2 1208.4 1748.9 1241.7 1751.6 1282.1" fill="none" stroke="#000" stroke-width="3.20" stroke-linecap="round" stroke-linejoin="round"/>
<g fill="none" stroke="#000" stroke-linecap="round" stroke-linejoin="round"><g stroke-width="7.20"><path transform="translate(43.0 110.0) scale(1.000)" d="M5,-40 C5,-27 5,-13 5,-1 M9,-50 C28,-50 46,-44 47,-36 C48,-28 31,-27 18,-28 M17,-26 C28,-17 37,-9 45,-1"/><path transform="translate(98.5 110.0) scale(1.000)" d="M12,-12 C20,-13 30,-15 33,-19 C35,-24 30,-28 23,-28 C13,-28 4,-19 4,-8 C4,3 12,10 21,10 C28,10 34,7 39,5"/><path transform="translate(142.7 110.0) scale(1.000)" d="M28,-26 C18,-26 6,-16 4,-8 C3,-2 7,1 12,1 C18,1 24,-8 29,-16 M28,-26 C32,-16 36,-6 45,0"/><path transform="translate(194.7 110.0) scale(1.000)" d="M29,-19 C30,-25 26,-28 20,-28 C11,-28 4,-20 4,-11 C4,-3 11,1 19,2 C25,3 30,3 34,4"/><path transform="translate(232.4 110.0) scale(1.000)" d="M18,-46 C18,-30 19,-14 20,-6 C21,0 25,2 29,2 C34,2 38,-4 39,-10 M4,-30 C16,-33 28,-35 39,-37"/><path transform="translate(316.8 110.0) scale(1.000)" d="M18,-46 C18,-30 19,-14 20,-6 C21,0 25,2 29,2 C34,2 38,-4 39,-10 M4,-30 C16,-33 28,-35 39,-37"/><path transform="translate(368.6 110.0) scale(1.000)" d="M4,1 C4,-7 4,-14 5,-19 M5,-17 C8,-24 14,-27 20,-27 C24,-27 27,-25 30,-21"/><path transform="translate(403.6 110.0) scale(1.000)" d="M12,-12 C20,-13 30,-15 33,-19 C35,-24 30,-28 23,-28 C13,-28 4,-19 4,-8 C4,3 12,10 21,10 C28,10 34,7 39,5"/><path transform="translate(447.0 110.0) scale(1.000)" d="M12,-12 C20,-13 30,-15 33,-19 C35,-24 30,-28 23,-28 C13,-28 4,-19 4,-8 C4,3 12,10 21,10 C28,10 34,7 39,5"/><path transform="translate(531.6 110.0) scale(1.000)" d="M5,-26 C5,-17 6,-8 6,0 C10,-6 16,-13 21,-15 C22,-9 24,-4 26,0 C33,-8 41,-18 49,-27"/><path transform="translate(580.0 110.0) scale(1.000)" d="M4,-40 L9,-35.5 M6,-19 C6,-12 7,-6 8,-1"/><path transform="translate(594.0 110.0) scale(1.000)" d="M18,-46 C18,-30 19,-14 20,-6 C21,0 25,2 29,2 C34,2 38,-4 39,-10 M4,-30 C16,-33 28,-35 39,-37"/><path transform="translate(643.0 110.0) scale(1.000)" d="M4,-40 C4,-26 4,-12 5,0 M5,-10 C9,-19 15,-23 21,-23 C28,-23 31,-12 36,0"/><path transform="translate(723.0 110.0) scale(1.000)" d="M5,-21 L5,-1 M5,-10 C8,-18 13,-23 18,-23 C23,-23 24,-12 24,-4 M24,-10 C27,-18 31,-24 36,-24 C41,-24 43,-12 45,0"/><path transform="translate(777.4 110.0) scale(1.000)" d="M4,-40 L9,-35.5 M6,-19 C6,-12 7,-6 8,-1"/><path transform="translate(795.0 110.0) scale(1.000)" d="M6,-26 C14,-17 24,-8 34,-1 M44,-26 C30,-21 15,-10 4,1"/></g><g stroke-width="7.20"><path transform="translate(45.0 211.0) scale(1.000)" d="M21,-27 C11,-27 4,-20 4,-12 C4,-4 10,0 18,0 C28,0 36,-6 36,-14 C36,-22 30,-27 20,-27"/><path transform="translate(87.0 211.0) scale(1.000)" d="M13,-1 C12,-20 11,-40 13,-50 C15,-57 20,-57 24,-53 C28,-49 33,-43 35,-38 M4,-24 C14,-24 26,-22 35,-20"/><path transform="translate(169.0 211.0) scale(1.000)" d="M29,-29 C20,-30 8,-28 5,-24 C2,-20 10,-16 20,-12 C31,-8 37,-4 35,1 C32,6 20,7 8,-1"/><path transform="translate(214.0 211.0) scale(1.000)" d="M12,-12 C20,-13 30,-15 33,-19 C35,-24 30,-28 23,-28 C13,-28 4,-19 4,-8 C4,3 12,10 21,10 C28,10 34,7 39,5"/><path transform="translate(259.0 211.0) scale(1.000)" d="M4,1 C4,-7 4,-14 5,-19 M5,-17 C8,-24 14,-27 20,-27 C24,-27 27,-25 30,-21"/><path transform="translate(292.0 211.0) scale(1.000)" d="M5,-28 C8,-18 12,-8 16,0 C22,-10 29,-20 36,-28"/><path transform="translate(335.0 211.0) scale(1.000)" d="M12,-12 C20,-13 30,-15 33,-19 C35,-24 30,-28 23,-28 C13,-28 4,-19 4,-8 C4,3 12,10 21,10 C28,10 34,7 39,5"/><path transform="translate(380.0 211.0) scale(1.000)" d="M4,1 C4,-7 4,-14 5,-19 M5,-17 C8,-24 14,-27 20,-27 C24,-27 27,-25 30,-21"/><path transform="translate(453.0 211.0) scale(1.000)" d="M28,-26 C18,-26 6,-16 4,-8 C3,-2 7,1 12,1 C18,1 24,-8 29,-16 M28,-26 C32,-16 36,-6 45,0"/><path transform="translate(508.0 211.0) scale(1.000)" d="M4,-25 C4,-16 4,-8 4,0 M4,-10 C8,-19 13,-25 18,-25 C24,-25 26,-13 29,0"/><path transform="translate(544.0 211.0) scale(1.000)" d="M30,-22 C21,-27 7,-23 5,-12 C3,-3 9,0 15,0 C23,0 28,-8 32,-18 M36,-55 C34,-38 35,-18 40,1"/><path transform="translate(631.0 211.0) scale(1.000)" d="M29,-19 C30,-25 26,-28 20,-28 C11,-28 4,-20 4,-11 C4,-3 11,1 19,2 C25,3 30,3 34,4"/><path transform="translate(677.0 211.0) scale(1.000)" d="M4,-64 C3,-44 3,-20 4,1"/><path transform="translate(692.0 211.0) scale(1.000)" d="M4,-40 L9,-35.5 M6,-19 C6,-12 7,-6 8,-1"/><path transform="translate(712.0 211.0) scale(1.000)" d="M12,-12 C20,-13 30,-15 33,-19 C35,-24 30,-28 23,-28 C13,-28 4,-19 4,-8 C4,3 12,10 21,10 C28,10 34,7 39,5"/><path transform="translate(756.0 211.0) scale(1.000)" d="M4,-25 C4,-16 4,-8 4,0 M4,-10 C8,-19 13,-25 18,-25 C24,-25 26,-13 29,0"/><path transform="translate(788.0 211.0) scale(1.000)" d="M18,-46 C18,-30 19,-14 20,-6 C21,0 25,2 29,2 C34,2 38,-4 39,-10 M4,-30 C16,-33 28,-35 39,-37"/></g><g stroke-width="7.20"><path transform="translate(408.0 314.0) scale(1.000)" d="M29,-19 C30,-25 26,-28 20,-28 C11,-28 4,-20 4,-11 C4,-3 11,1 19,2 C25,3 30,3 34,4"/><path transform="translate(449.5 314.0) scale(1.000)" d="M21,-27 C11,-27 4,-20 4,-12 C4,-4 10,0 18,0 C28,0 36,-6 36,-14 C36,-22 30,-27 20,-27"/><path transform="translate(494.5 314.0) scale(1.000)" d="M5,-21 L5,-1 M5,-10 C8,-18 13,-23 18,-23 C23,-23 24,-12 24,-4 M24,-10 C27,-18 31,-24 36,-24 C41,-24 43,-12 45,0"/><path transform="translate(544.0 314.0) scale(1.000)" d="M4,-26 C4,-8 5,10 8,26 M4,-18 C8,-26 14,-29 20,-29 C27,-29 32,-22 32,-15 C32,-6 26,0 18,0 C12,0 8,-3 5,-6"/><path transform="translate(587.0 314.0) scale(1.000)" d="M21,-27 C11,-27 4,-20 4,-12 C4,-4 10,0 18,0 C28,0 36,-6 36,-14 C36,-22 30,-27 20,-27"/><path transform="translate(630.6 314.0) scale(1.000)" d="M4,-25 C4,-16 4,-8 4,0 M4,-10 C8,-19 13,-25 18,-25 C24,-25 26,-13 29,0"/><path transform="translate(667.8 314.0) scale(1.000)" d="M12,-12 C20,-13 30,-15 33,-19 C35,-24 30,-28 23,-28 C13,-28 4,-19 4,-8 C4,3 12,10 21,10 C28,10 34,7 39,5"/><path transform="translate(712.8 314.0) scale(1.000)" d="M4,-25 C4,-16 4,-8 4,0 M4,-10 C8,-19 13,-25 18,-25 C24,-25 26,-13 29,0"/><path transform="translate(744.3 314.0) scale(1.000)" d="M18,-46 C18,-30 19,-14 20,-6 C21,0 25,2 29,2 C34,2 38,-4 39,-10 M4,-30 C16,-33 28,-35 39,-37"/><path transform="translate(795.0 314.0) scale(1.000)" d="M29,-29 C20,-30 8,-28 5,-24 C2,-20 10,-16 20,-12 C31,-8 37,-4 35,1 C32,6 20,7 8,-1"/></g><g stroke-width="7.78"><path transform="translate(1275.4 145.5) scale(0.763)" d="M29,-29 C20,-30 8,-28 5,-24 C2,-20 10,-16 20,-12 C31,-8 37,-4 35,1 C32,6 20,7 8,-1"/><path transform="translate(1310.0 145.5) scale(0.763)" d="M12,-12 C20,-13 30,-15 33,-19 C35,-24 30,-28 23,-28 C13,-28 4,-19 4,-8 C4,3 12,10 21,10 C28,10 34,7 39,5"/><path transform="translate(1345.6 145.5) scale(0.763)" d="M4,1 C4,-7 4,-14 5,-19 M5,-17 C8,-24 14,-27 20,-27 C24,-27 27,-25 30,-21"/><path transform="translate(1370.0 145.5) scale(0.763)" d="M5,-28 C8,-18 12,-8 16,0 C22,-10 29,-20 36,-28"/><path transform="translate(1401.5 145.5) scale(0.763)" d="M12,-12 C20,-13 30,-15 33,-19 C35,-24 30,-28 23,-28 C13,-28 4,-19 4,-8 C4,3 12,10 21,10 C28,10 34,7 39,5"/><path transform="translate(1435.0 145.5) scale(0.763)" d="M4,1 C4,-7 4,-14 5,-19 M5,-17 C8,-24 14,-27 20,-27 C24,-27 27,-25 30,-21"/><path transform="translate(1491.0 145.5) scale(0.763)" d="M29,-19 C30,-25 26,-28 20,-28 C11,-28 4,-20 4,-11 C4,-3 11,1 19,2 C25,3 30,3 34,4"/><path transform="translate(1523.0 145.5) scale(0.763)" d="M21,-27 C11,-27 4,-20 4,-12 C4,-4 10,0 18,0 C28,0 36,-6 36,-14 C36,-22 30,-27 20,-27"/><path transform="translate(1557.6 145.5) scale(0.763)" d="M5,-21 L5,-1 M5,-10 C8,-18 13,-23 18,-23 C23,-23 24,-12 24,-4 M24,-10 C27,-18 31,-24 36,-24 C41,-24 43,-12 45,0"/><path transform="translate(1595.0 145.5) scale(0.763)" d="M4,-26 C4,-8 5,10 8,26 M4,-18 C8,-26 14,-29 20,-29 C27,-29 32,-22 32,-15 C32,-6 26,0 18,0 C12,0 8,-3 5,-6"/><path transform="translate(1627.0 145.5) scale(0.763)" d="M21,-27 C11,-27 4,-20 4,-12 C4,-4 10,0 18,0 C28,0 36,-6 36,-14 C36,-22 30,-27 20,-27"/><path transform="translate(1661.0 145.5) scale(0.763)" d="M4,-25 C4,-16 4,-8 4,0 M4,-10 C8,-19 13,-25 18,-25 C24,-25 26,-13 29,0"/><path transform="translate(1689.0 145.5) scale(0.763)" d="M12,-12 C20,-13 30,-15 33,-19 C35,-24 30,-28 23,-28 C13,-28 4,-19 4,-8 C4,3 12,10 21,10 C28,10 34,7 39,5"/><path transform="translate(1723.0 145.5) scale(0.763)" d="M4,-25 C4,-16 4,-8 4,0 M4,-10 C8,-19 13,-25 18,-25 C24,-25 26,-13 29,0"/><path transform="translate(1747.0 145.5) scale(0.763)" d="M18,-46 C18,-30 19,-14 20,-6 C21,0 25,2 29,2 C34,2 38,-4 39,-10 M4,-30 C16,-33 28,-35 39,-37"/></g><g stroke-width="7.78"><path transform="translate(1275.4 221.0) scale(0.763)" d="M21,-55 C10,-48 4,-38 4,-28 C4,-14 16,-4 28,3"/><path transform="translate(1302.0 221.0) scale(0.763)" d="M21,-27 C11,-27 4,-20 4,-12 C4,-4 10,0 18,0 C28,0 36,-6 36,-14 C36,-22 30,-27 20,-27"/><path transform="translate(1336.5 221.0) scale(0.763)" d="M4,1 C4,-7 4,-14 5,-19 M5,-17 C8,-24 14,-27 20,-27 C24,-27 27,-25 30,-21"/><path transform="translate(1362.5 221.0) scale(0.763)" d="M28,-26 C18,-26 6,-16 4,-8 C3,-2 7,1 12,1 C18,1 24,-8 29,-16 M28,-26 C32,-16 36,-6 45,0"/><path transform="translate(1404.0 221.0) scale(0.763)" d="M4,-25 C4,-16 4,-8 4,0 M4,-10 C8,-19 13,-25 18,-25 C24,-25 26,-13 29,0"/><path transform="translate(1432.0 221.0) scale(0.763)" d="M30,-22 C20,-28 6,-22 4,-12 C3,-4 8,0 15,0 C22,0 28,-8 31,-18 M33,-24 C32,-8 28,14 24,33 C18,30 11,26 6,21"/><path transform="translate(1464.0 221.0) scale(0.763)" d="M12,-12 C20,-13 30,-15 33,-19 C35,-24 30,-28 23,-28 C13,-28 4,-19 4,-8 C4,3 12,10 21,10 C28,10 34,7 39,5"/><path transform="translate(1496.4 221.0) scale(0.763)" d="M5,-53 C14,-44 20,-32 20,-20 C20,-8 14,-1 6,1"/></g><g stroke-width="7.78"><path transform="translate(204.0 570.0) scale(0.763)" d="M37,-28 C38,-35 36,-41 32,-43 C22,-45 10,-39 6,-28 C2,-15 8,-1 21,0 C29,1 35,0 39,-1"/><path transform="translate(247.7 570.0) scale(0.763)" d="M4,-64 C3,-44 3,-20 4,1"/><path transform="translate(260.0 570.0) scale(0.763)" d="M4,-40 L9,-35.5 M6,-19 C6,-12 7,-6 8,-1"/><path transform="translate(274.3 570.0) scale(0.763)" d="M12,-12 C20,-13 30,-15 33,-19 C35,-24 30,-28 23,-28 C13,-28 4,-19 4,-8 C4,3 12,10 21,10 C28,10 34,7 39,5"/><path transform="translate(308.0 570.0) scale(0.763)" d="M4,-25 C4,-16 4,-8 4,0 M4,-10 C8,-19 13,-25 18,-25 C24,-25 26,-13 29,0"/><path transform="translate(332.0 570.0) scale(0.763)" d="M18,-46 C18,-30 19,-14 20,-6 C21,0 25,2 29,2 C34,2 38,-4 39,-10 M4,-30 C16,-33 28,-35 39,-37"/><path transform="translate(401.0 570.0) scale(0.763)" d="M29,-19 C30,-25 26,-28 20,-28 C11,-28 4,-20 4,-11 C4,-3 11,1 19,2 C25,3 30,3 34,4"/><path transform="translate(433.0 570.0) scale(0.763)" d="M21,-27 C11,-27 4,-20 4,-12 C4,-4 10,0 18,0 C28,0 36,-6 36,-14 C36,-22 30,-27 20,-27"/><path transform="translate(468.2 570.0) scale(0.763)" d="M5,-21 L5,-1 M5,-10 C8,-18 13,-23 18,-23 C23,-23 24,-12 24,-4 M24,-10 C27,-18 31,-24 36,-24 C41,-24 43,-12 45,0"/><path transform="translate(505.6 570.0) scale(0.763)" d="M4,-26 C4,-8 5,10 8,26 M4,-18 C8,-26 14,-29 20,-29 C27,-29 32,-22 32,-15 C32,-6 26,0 18,0 C12,0 8,-3 5,-6"/><path transform="translate(534.5 570.0) scale(0.763)" d="M21,-27 C11,-27 4,-20 4,-12 C4,-4 10,0 18,0 C28,0 36,-6 36,-14 C36,-22 30,-27 20,-27"/><path transform="translate(570.4 570.0) scale(0.763)" d="M4,-25 C4,-16 4,-8 4,0 M4,-10 C8,-19 13,-25 18,-25 C24,-25 26,-13 29,0"/><path transform="translate(599.4 570.0) scale(0.763)" d="M12,-12 C20,-13 30,-15 33,-19 C35,-24 30,-28 23,-28 C13,-28 4,-19 4,-8 C4,3 12,10 21,10 C28,10 34,7 39,5"/><path transform="translate(633.0 570.0) scale(0.763)" d="M4,-25 C4,-16 4,-8 4,0 M4,-10 C8,-19 13,-25 18,-25 C24,-25 26,-13 29,0"/><path transform="translate(657.3 570.0) scale(0.763)" d="M18,-46 C18,-30 19,-14 20,-6 C21,0 25,2 29,2 C34,2 38,-4 39,-10 M4,-30 C16,-33 28,-35 39,-37"/></g><g stroke-width="7.78"><path transform="translate(532.0 647.5) scale(0.763)" d="M21,-55 C10,-48 4,-38 4,-28 C4,-14 16,-4 28,3"/><path transform="translate(558.4 647.5) scale(0.763)" d="M8,-52 C6,-36 5,-18 5,-2 M5,-6 C7,-13 14,-16 21,-16 C28,-16 33,-12 33,-7 C33,-2 26,0 18,0 C12,0 7,-1 5,-3"/><path transform="translate(594.0 647.5) scale(0.763)" d="M4,-64 C3,-44 3,-20 4,1"/><path transform="translate(607.0 647.5) scale(0.763)" d="M5,-23 C4,-13 5,-2 14,0 C22,1 28,-8 32,-18 M32,-22 C32,-14 33,-6 35,1"/><path transform="translate(641.2 647.5) scale(0.763)" d="M12,-12 C20,-13 30,-15 33,-19 C35,-24 30,-28 23,-28 C13,-28 4,-19 4,-8 C4,3 12,10 21,10 C28,10 34,7 39,5"/><path transform="translate(674.5 647.5) scale(0.763)" d="M5,-53 C14,-44 20,-32 20,-20 C20,-8 14,-1 6,1"/></g></g>
</g></svg>
</body></html>
